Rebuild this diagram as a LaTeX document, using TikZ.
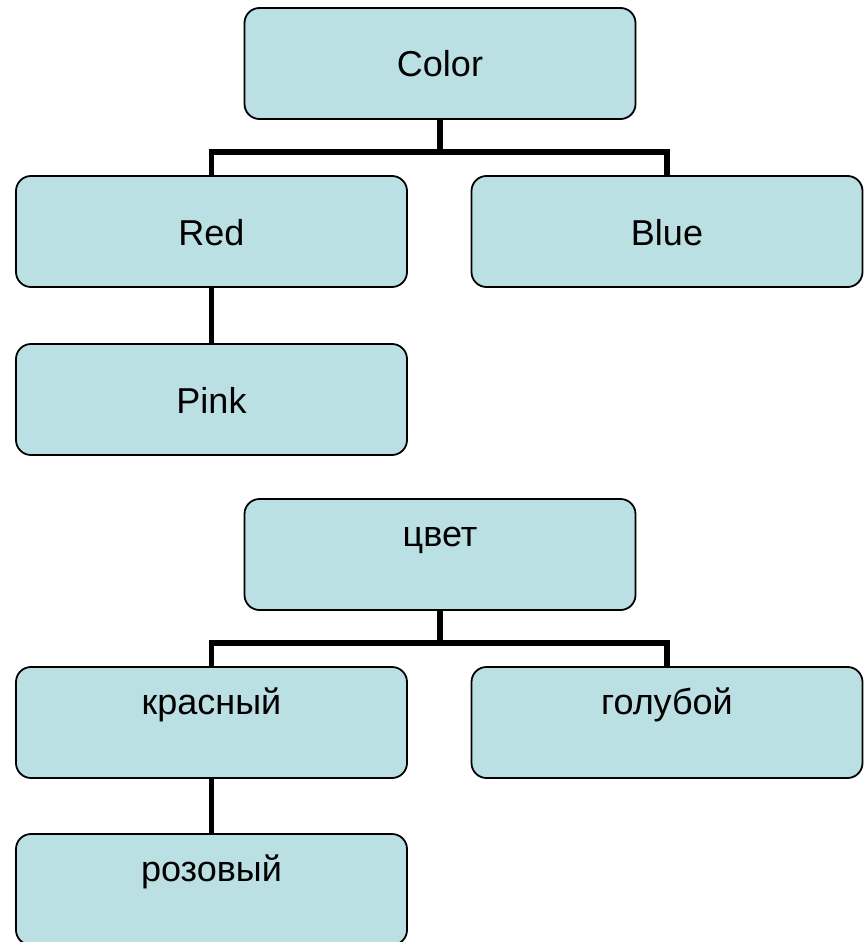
\documentclass[tikz,border=0pt]{standalone}
\usepackage{fontspec}
\setmainfont{Liberation Sans}
\definecolor{boxfill}{RGB}{187,224,227}
\tikzset{
  orgbox/.style={draw=black, line width=1.8pt, fill=boxfill, rounded corners=15pt,
    minimum width=391pt, minimum height=111pt, inner xsep=0pt, inner ysep=0pt,
    font=\fontsize{36}{43}\selectfont},
  midtext/.style={orgbox, text height=69pt, text depth=42pt},
  toptext/.style={orgbox, text height=47pt, text depth=64pt},
  conn/.style={draw=black, line width=5.5pt, line join=miter}
}
\begin{document}
\begin{tikzpicture}[x=1pt,y=-1pt]
\useasboundingbox (0,0) rectangle (863,942);
% top tree
\node[midtext] (color) at (440,63.5) {Color};
\node[midtext] (red) at (211.5,231.5) {Red};
\node[midtext] (blue) at (667,231.5) {Blue};
\node[midtext] (pink) at (211.5,399.5) {Pink};
\coordinate (j1) at (440,152);
% bottom tree
\node[toptext] (cvet) at (440,554.5) {цвет};
\node[toptext] (krasn) at (211.5,722.5) {красный};
\node[toptext] (golub) at (667,722.5) {голубой};
\node[toptext] (roz) at (211.5,889.5) {розовый};
\coordinate (j2) at (440,643);
% connectors
\draw[conn] (color.south) -- (j1);
\draw[conn] (j1) -| (red.north);
\draw[conn] (j1) -| (blue.north);
\draw[conn] (red.south) -- (pink.north);
\draw[conn] (cvet.south) -- (j2);
\draw[conn] (j2) -| (krasn.north);
\draw[conn] (j2) -| (golub.north);
\draw[conn] (krasn.south) -- (roz.north);
\end{tikzpicture}
\end{document}
